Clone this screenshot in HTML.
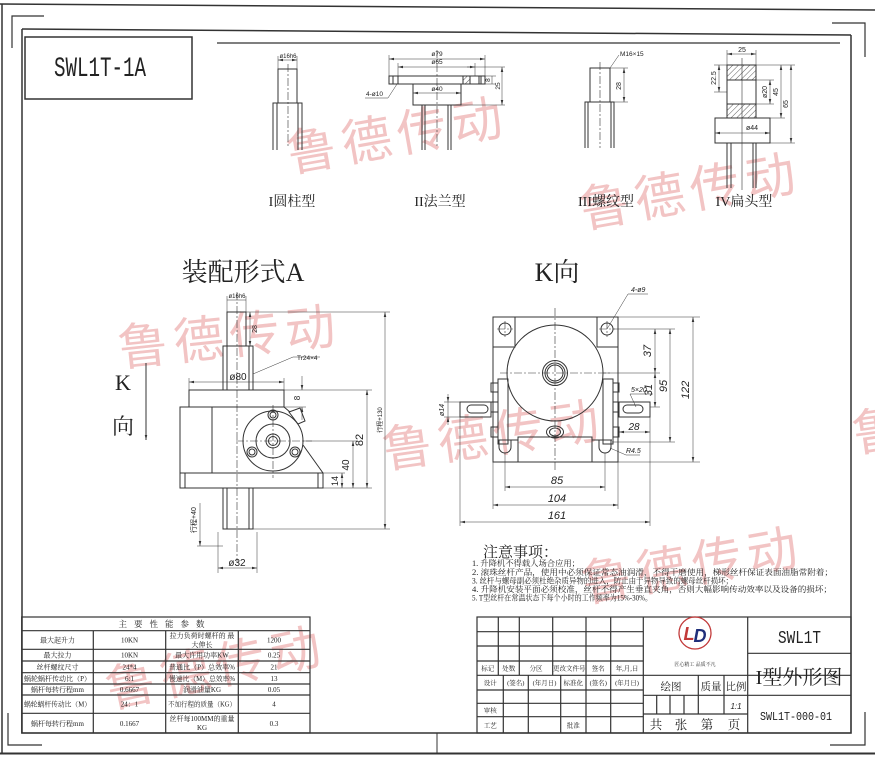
<!DOCTYPE html>
<html><head><meta charset="utf-8">
<style>
html,body{margin:0;padding:0;background:#fff;}
svg{display:block;}
text{font-family:"Liberation Serif","Noto Serif CJK SC",serif;fill:#222;}
.s{font-family:"Liberation Sans","Noto Sans CJK SC",sans-serif;}
.m{font-family:"Liberation Mono","Noto Sans CJK SC",monospace;}
text.wm{font-family:"Noto Sans CJK SC","WenQuanYi Zen Hei",sans-serif;font-weight:normal;fill:#f2c4c4;}
</style></head><body>
<svg width="875" height="768" viewBox="0 0 875 768" xmlns="http://www.w3.org/2000/svg">
<defs>
<marker id="ar" viewBox="0 0 10 10" refX="10" refY="5" markerWidth="5" markerHeight="5" markerUnits="userSpaceOnUse" orient="auto-start-reverse"><path d="M0,2.5 L10,5 L0,7.5z" fill="#333"/></marker>
<pattern id="h" width="4" height="4" patternUnits="userSpaceOnUse" patternTransform="rotate(45)"><line x1="0" y1="0" x2="0" y2="4" stroke="#333" stroke-width="0.8"/></pattern>
</defs>

<!-- watermarks -->
<g font-size="50" letter-spacing="6">
<text class="wm" x="290" y="172" transform="rotate(-10 290 172)">鲁德传动</text>
<text class="wm" x="583" y="228" transform="rotate(-10 583 228)">鲁德传动</text>
<text class="wm" x="120" y="366" transform="rotate(-6 120 366)">鲁德传动</text>
<text class="wm" x="385" y="468" transform="rotate(-8 385 468)">鲁德传动</text>
<text class="wm" x="855" y="452" transform="rotate(-8 855 452)">鲁</text>
<text class="wm" x="585" y="602" transform="rotate(-10 585 602)">鲁德传动</text>
<text class="wm" x="110" y="708" transform="rotate(-12 110 708)">鲁德传动</text>
</g>

<!-- frames -->
<g fill="none" stroke="#333">
<path d="M0 4 L875 10" stroke-width="1.5"/>
<path d="M2 4 V753" stroke-width="1.5"/>
<path d="M0 753.5 H875" stroke-width="2"/>
<path d="M22 29 L851 35" stroke-width="1.5"/>
<path d="M22 29 V733 H851 V35" stroke-width="1.5"/>
<path d="M12 48 V16 H44" stroke-width="1.2"/>
<path d="M832 23 H865 V57" stroke-width="1.2"/>
<path d="M8 713 V745 H42" stroke-width="1.2"/>
<path d="M830 745 H865 V712" stroke-width="1.2"/>
<path d="M217 43 H840" stroke-width="1.2"/>
<path d="M437 733 V753"/>
<rect x="25" y="37" width="167" height="62" stroke-width="1.5"/>
</g>
<text class="m" x="54" y="76" font-size="28" textLength="92" lengthAdjust="spacingAndGlyphs">SWL1T-1A</text>

<!-- I 圆柱型 -->
<g fill="none" stroke="#333" stroke-width="1">
<rect x="278" y="69" width="19" height="34"/>
<path d="M273 150 V103 H302 V150 M277 103 V150 M298 103 V150"/>
<path d="M288 64 V148" stroke-dasharray="8 2 2 2" stroke-width="0.6"/>
<path d="M278 56 V69 M297 56 V69" stroke-width="0.5"/>
<path d="M278 60 H297" stroke-width="0.5" marker-start="url(#ar)" marker-end="url(#ar)"/>
</g>
<text class="s" x="288" y="58" font-size="6" text-anchor="middle">ø16h6</text>
<text x="292" y="206" font-size="14" text-anchor="middle">I圆柱型</text>

<!-- II 法兰型 -->
<g fill="none" stroke="#333" stroke-width="1">
<rect x="389" y="76" width="96" height="8"/>
<path d="M393 76 V84 M398 76 V84 M479 76 V84 M481 76 V84"/>
<rect x="463" y="76" width="7" height="8" fill="url(#h)"/>
<rect x="413" y="84" width="48" height="21"/>
<path d="M422 105 V150 M425 105 V150 M448 105 V150 M451 105 V150"/>
<path d="M437 50 V148" stroke-dasharray="8 2 2 2" stroke-width="0.6"/>
<g stroke-width="0.5">
<path d="M389 55 V76 M485 55 V76 M398 63 V76 M475 63 V76 M485 76 H496 M485 84 H496 M467 67 H505 M461 105 H505"/>
<path d="M389 59 H485" marker-start="url(#ar)" marker-end="url(#ar)"/>
<path d="M398 67 H475" marker-start="url(#ar)" marker-end="url(#ar)"/>
<path d="M413 93 H461" marker-start="url(#ar)" marker-end="url(#ar)"/>
<path d="M492 76 V84"/>
<path d="M502 67 V105" marker-start="url(#ar)" marker-end="url(#ar)"/>
<path d="M365 98 H388 L397 84"/>
</g>
</g>
<g font-size="6.5">
<text class="s" x="437" y="56" text-anchor="middle">ø79</text>
<text class="s" x="437" y="64" text-anchor="middle">ø65</text>
<text class="s" x="437" y="91" text-anchor="middle">ø40</text>
<text class="s" x="366" y="96">4-ø10</text>
<text class="s" transform="translate(490 80) rotate(-90)" text-anchor="middle">8</text>
<text class="s" transform="translate(500 86) rotate(-90)" text-anchor="middle">25</text>
</g>
<text x="440" y="206" font-size="14" text-anchor="middle">II法兰型</text>

<!-- III 螺纹型 -->
<g fill="none" stroke="#333" stroke-width="1">
<rect x="590" y="68" width="20" height="34"/>
<path d="M585 148 V102 H614 V148 M588 102 V148 M611 102 V148"/>
<path d="M600 62 V148" stroke-dasharray="8 2 2 2" stroke-width="0.6"/>
<g stroke-width="0.5">
<path d="M610 68 H628 M610 102 H628 M610 68 L619 55"/>
<path d="M624 68 V102" marker-start="url(#ar)" marker-end="url(#ar)"/>
</g>
</g>
<text class="s" x="620" y="56" font-size="6.5">M16×15</text>
<text class="s" transform="translate(621 86) rotate(-90)" font-size="7" text-anchor="middle">28</text>
<text x="606" y="206" font-size="14" text-anchor="middle">III螺纹型</text>

<!-- IV 扁头型 -->
<g fill="none" stroke="#333" stroke-width="1">
<rect x="727" y="65" width="29" height="15" fill="url(#h)"/>
<rect x="727" y="104" width="29" height="14" fill="url(#h)"/>
<path d="M727 80 V104 M756 80 V104"/>
<rect x="715" y="118" width="55" height="25"/>
<path d="M727 143 V188 M731 143 V188 M753 143 V188 M756 143 V188"/>
<path d="M742 58 V190" stroke-width="0.6"/>
<g stroke-width="0.5">
<path d="M727 50 V65 M756 50 V65 M714 65 H727 M714 92 H727 M756 65 H795 M756 80 H774 M756 104 H774 M770 118 H785 M770 143 H795"/>
<path d="M727 54 H756" marker-start="url(#ar)" marker-end="url(#ar)"/>
<path d="M719 65 V92" marker-start="url(#ar)" marker-end="url(#ar)"/>
<path d="M770 80 V104" marker-start="url(#ar)" marker-end="url(#ar)"/>
<path d="M781 65 V118" marker-start="url(#ar)" marker-end="url(#ar)"/>
<path d="M791 65 V143" marker-start="url(#ar)" marker-end="url(#ar)"/>
<path d="M715 133 H770" marker-start="url(#ar)" marker-end="url(#ar)"/>
</g>
</g>
<g font-size="7">
<text class="s" x="742" y="52" text-anchor="middle">25</text>
<text class="s" transform="translate(716 78) rotate(-90)" text-anchor="middle">22.5</text>
<text class="s" transform="translate(767 92) rotate(-90)" text-anchor="middle">ø20</text>
<text class="s" transform="translate(778 92) rotate(-90)" text-anchor="middle">45</text>
<text class="s" transform="translate(788 104) rotate(-90)" text-anchor="middle">65</text>
<text class="s" x="752" y="130" text-anchor="middle">ø44</text>
</g>
<text x="744" y="206" font-size="14" text-anchor="middle">IV扁头型</text>

<!-- 装配形式A -->
<text x="243" y="281" font-size="26" text-anchor="middle">装配形式A</text>
<text x="123" y="390" font-size="22" text-anchor="middle">K</text>
<text x="123" y="434" font-size="22" text-anchor="middle">向</text>
<path d="M146 363 V440" stroke="#333" stroke-width="1" marker-end="url(#ar)"/>

<g fill="none" stroke="#333" stroke-width="1">
<rect x="227" y="312" width="19" height="34"/>
<path d="M223 390 V346 H253 V390 M227 346 V390 M249 346 V390"/>
<rect x="189" y="390" width="95" height="17"/>
<rect x="180" y="407" width="32" height="66"/>
<rect x="180" y="473" width="143" height="15"/>
<path d="M185 473 V488 M318 473 V488"/>
<path d="M284 407 L290 412 M303 445 L323 473"/>
<path d="M289 412 L300 408 L305 421 L298 424 Z"/>
<circle cx="273" cy="441" r="30"/>
<circle cx="273" cy="441" r="17"/>
<circle cx="273" cy="441" r="7"/>
<circle cx="273" cy="441" r="4.5"/>
<circle cx="273" cy="415" r="5"/><circle cx="273" cy="415" r="3"/>
<circle cx="252" cy="452" r="5"/><circle cx="252" cy="452" r="3"/>
<circle cx="295" cy="452" r="5"/><circle cx="295" cy="452" r="3"/>
<path d="M223 488 V529 H253 V488 M227 488 V529 M249 488 V529"/>
<g stroke-width="0.6" stroke-dasharray="8 2 2 2">
<path d="M237 292 V562"/>
<path d="M236 441 H312 M273 405 V478"/>
</g>
<g stroke-width="0.5">
<path d="M227 296 V312 M246 296 V312 M227 300 H246"/>
<path d="M250 312 V346" marker-start="url(#ar)" marker-end="url(#ar)"/>
<path d="M253 374 L293 357 H320"/>
<path d="M189 378 V390 M284 378 V390"/>
<path d="M189 382 H284" marker-start="url(#ar)" marker-end="url(#ar)"/>
<path d="M284 390 H372 M284 407 H306"/>
<path d="M302 376 V390" marker-end="url(#ar)"/>
<path d="M302 420 V407" marker-end="url(#ar)"/>
<path d="M246 312 H390 M253 529 H390 M303 441 H357 M323 473 H345 M323 488 H372"/>
<path d="M367 390 V488" marker-start="url(#ar)" marker-end="url(#ar)"/>
<path d="M353 441 V488" marker-start="url(#ar)" marker-end="url(#ar)"/>
<path d="M342 473 V488" marker-start="url(#ar)" marker-end="url(#ar)"/>
<path d="M385 312 V529" marker-start="url(#ar)" marker-end="url(#ar)"/>
<path d="M197 546 H223"/>
<path d="M200 503 V546" marker-end="url(#ar)"/>
<path d="M218 532 V573 M257 532 V573"/>
<path d="M218 568 H257" marker-start="url(#ar)" marker-end="url(#ar)"/>
</g>
</g>
<g>
<text class="s" x="237" y="298" font-size="6" text-anchor="middle">ø16h6</text>
<text class="s" transform="translate(257 329) rotate(-90)" font-size="7" text-anchor="middle">28</text>
<text class="s" x="297" y="360" font-size="6.5">Tr24×4</text>
<text class="s" x="238" y="380" font-size="10" text-anchor="middle">ø80</text>
<text class="s" transform="translate(300 398) rotate(-90)" font-size="8" text-anchor="middle">8</text>
<text class="s" transform="translate(363 440) rotate(-90)" font-size="11" text-anchor="middle">82</text>
<text class="s" transform="translate(349 465) rotate(-90)" font-size="10" text-anchor="middle">40</text>
<text class="s" transform="translate(338 481) rotate(-90)" font-size="9" text-anchor="middle">14</text>
<text class="s" transform="translate(382 420) rotate(-90)" font-size="6" text-anchor="middle">行程+130</text>
<text class="s" transform="translate(196 520) rotate(-90)" font-size="7" text-anchor="middle">行程+40</text>
<text class="s" x="237" y="566" font-size="10" text-anchor="middle">ø32</text>
</g>

<!-- K向 -->
<text x="557" y="281" font-size="26" text-anchor="middle">K向</text>
<g fill="none" stroke="#333" stroke-width="1">
<rect x="493" y="317" width="125" height="145"/>
<path d="M515 317 V347 H493 M597 317 V347 H618"/>
<circle cx="505" cy="329" r="6"/><circle cx="607" cy="329" r="6"/>
<circle cx="555" cy="373" r="48"/>
<circle cx="555" cy="373" r="12.5"/>
<circle cx="555" cy="373" r="10"/>
<circle cx="555" cy="373" r="8"/>
<rect x="498" y="379" width="10" height="65"/>
<rect x="603" y="379" width="10" height="65"/>
<rect x="491" y="383" width="7" height="9"/><rect x="491" y="402" width="7" height="10"/><rect x="491" y="427" width="7" height="10"/>
<rect x="613" y="383" width="6" height="9"/><rect x="613" y="402" width="6" height="10"/><rect x="613" y="427" width="6" height="10"/>
<rect x="460" y="402" width="31" height="15"/>
<rect x="467" y="405" width="21" height="8" rx="4"/>
<rect x="619" y="402" width="31" height="15"/>
<rect x="623" y="405" width="20" height="8" rx="4"/>
<rect x="518" y="437" width="74" height="25"/>
<path d="M498 440 H518 M592 440 H612"/>
<path d="M499 440 V447 A6 6 0 0 0 511 447 V440 M599 440 V447 A6 6 0 0 0 611 447 V440"/>
<ellipse cx="555" cy="432" rx="8.5" ry="6"/>
<ellipse cx="555" cy="432" rx="5.5" ry="4"/>
<g stroke-width="0.6" stroke-dasharray="8 2 2 2">
<path d="M555 308 V472 M500 373 H612"/>
<path d="M497 329 H513 M505 321 V337 M599 329 H615 M607 321 V337"/>
</g>
<g stroke-width="0.5">
<path d="M618 317 H700 M613 329 H675 M603 373 H660 M650 407 H660 M612 442 H675 M618 462 H700"/>
<path d="M655 329 V373" marker-start="url(#ar)" marker-end="url(#ar)"/>
<path d="M655 373 V407" marker-start="url(#ar)" marker-end="url(#ar)"/>
<path d="M670 329 V442" marker-start="url(#ar)" marker-end="url(#ar)"/>
<path d="M693 317 V462" marker-start="url(#ar)" marker-end="url(#ar)"/>
<path d="M607 329 L628 294 H648"/>
<path d="M636 407 L630 394 H653"/>
<path d="M650 417 V436"/>
<path d="M619 432 H650" marker-start="url(#ar)" marker-end="url(#ar)"/>
<path d="M610 448 L626 455 H640"/>
<path d="M444 402 H460 M444 417 H460"/>
<path d="M448 394 V402" marker-end="url(#ar)"/><path d="M448 425 V417" marker-end="url(#ar)"/>
<path d="M448 402 V417"/>
<path d="M505 453 V491 M605 453 V491 M493 462 V509 M618 462 V509 M460 417 V526 M650 436 V526"/>
<path d="M505 487 H605" marker-start="url(#ar)" marker-end="url(#ar)"/>
<path d="M493 505 H618" marker-start="url(#ar)" marker-end="url(#ar)"/>
<path d="M460 522 H650" marker-start="url(#ar)" marker-end="url(#ar)"/>
</g>
</g>
<g font-style="italic">
<text class="s" x="631" y="292" font-size="7">4-ø9</text>
<text class="s" transform="translate(651 351) rotate(-90)" font-size="11" text-anchor="middle">37</text>
<text class="s" transform="translate(652 390) rotate(-90)" font-size="11" text-anchor="middle">31</text>
<text class="s" transform="translate(667 386) rotate(-90)" font-size="11" text-anchor="middle">95</text>
<text class="s" transform="translate(689 390) rotate(-90)" font-size="11" text-anchor="middle">122</text>
<text class="s" x="631" y="392" font-size="7">5×20</text>
<text class="s" x="634" y="430" font-size="10" text-anchor="middle">28</text>
<text class="s" x="626" y="453" font-size="7">R4.5</text>
<text class="s" transform="translate(444 410) rotate(-90)" font-size="7" text-anchor="middle">ø14</text>
<text class="s" x="557" y="484" font-size="11" text-anchor="middle">85</text>
<text class="s" x="557" y="502" font-size="11" text-anchor="middle">104</text>
<text class="s" x="557" y="519" font-size="11" text-anchor="middle">161</text>
</g>

<!-- notes -->
<text x="483" y="557" font-size="15">注意事项：</text>
<g font-size="8.2">
<text x="472" y="566" textLength="108" lengthAdjust="spacingAndGlyphs">1. 升降机不得载人场合应用；</text>
<text x="472" y="575" textLength="361" lengthAdjust="spacingAndGlyphs">2. 滚珠丝杆产品，使用中必须保证常态油润滑，不得干磨使用，梯形丝杆保证表面油脂常附着；</text>
<text x="472" y="583.5" textLength="261" lengthAdjust="spacingAndGlyphs">3. 丝杆与螺母副必须杜绝杂质异物的进入，防止由于异物导致的螺母丝杆损坏；</text>
<text x="472" y="592" textLength="360" lengthAdjust="spacingAndGlyphs">4. 升降机安装平面必须校准，丝杆不得产生垂直夹角，否则大幅影响传动效率以及设备的损坏；</text>
<text x="472" y="600.5" textLength="180" lengthAdjust="spacingAndGlyphs">5. T型丝杆在常温状态下每个小时的工作频率为15%-30%。</text>
</g>

<!-- parameter table -->
<g fill="none" stroke="#333" stroke-width="1.2">
<rect x="21.7" y="617" width="288.3" height="116"/>
<path d="M21.7 630.7 H310 M21.7 649.3 H310 M21.7 661 H310 M21.7 672.7 H310 M21.7 684 H310 M21.7 695 H310 M21.7 713.3 H310"/>
<path d="M93.3 630.7 V733 M165.7 630.7 V733 M238.3 630.7 V733"/>
</g>
<g font-size="7" text-anchor="middle">
<text x="165" y="627" font-size="8.5" letter-spacing="7">主要性能参数</text>
<text x="57.5" y="642.5">最大起升力</text><text x="129.5" y="642.5">10KN</text>
<text x="202" y="638">拉力负荷时螺杆的 最</text><text x="202" y="647">大伸长</text><text x="274" y="642.5">1200</text>
<text x="57.5" y="657.7">最大拉力</text><text x="129.5" y="657.7">10KN</text><text x="202" y="657.7">最大许用功率KW</text><text x="274" y="657.7">0.25</text>
<text x="57.5" y="669.4">丝杆螺纹尺寸</text><text x="129.5" y="669.4">24*4</text><text x="202" y="669.4" textLength="66" lengthAdjust="spacingAndGlyphs">普通比（P）总效率%</text><text x="274" y="669.4">21</text>
<text x="57.5" y="680.9" textLength="67" lengthAdjust="spacingAndGlyphs">蜗轮蜗杆传动比（P）</text><text x="129.5" y="680.9">6:1</text><text x="202" y="680.9" textLength="66" lengthAdjust="spacingAndGlyphs">慢速比（M）总效率%</text><text x="274" y="680.9">13</text>
<text x="57.5" y="692">蜗杆每转行程mm</text><text x="129.5" y="692">0.6667</text><text x="202" y="692">润滑油量KG</text><text x="274" y="692">0.05</text>
<text x="57.5" y="706.7" textLength="67" lengthAdjust="spacingAndGlyphs">蜗轮蜗杆传动比（M）</text><text x="129.5" y="706.7">24：1</text><text x="202" y="706.7" textLength="68" lengthAdjust="spacingAndGlyphs">不加行程的质量（KG）</text><text x="274" y="706.7">4</text>
<text x="57.5" y="725.8">蜗杆每转行程mm</text><text x="129.5" y="725.8">0.1667</text><text x="202" y="721">丝杆每100MM的重量</text><text x="202" y="730">KG</text><text x="274" y="725.8">0.3</text>
</g>

<!-- title block -->
<g fill="none" stroke="#333" stroke-width="1.2">
<rect x="477" y="617" width="374" height="116"/>
<path d="M477 631.7 H643.3 M477 646 H643.3 M477 661 H643.3 M477 675.3 H851 M477 690 H643.3 M477 703.3 H643.3 M477 716.7 H643.3"/>
<path d="M498.3 617 V675.3 M519.3 617 V675.3 M552.7 617 V675.3 M586 617 V733 M610.7 617 V733"/>
<path d="M503.3 675.3 V733 M528.3 675.3 V733 M560.7 675.3 V733"/>
<path d="M643.3 617 V733 M747.7 617 V733"/>
<path d="M643.3 695.3 H851 M643.3 714 H747.7 M747.7 653.3 H851"/>
<path d="M698.3 675.3 V714 M724 675.3 V714 M656.7 695.3 V714 M670 695.3 V714 M684 695.3 V714"/>
</g>
<g font-size="6.5" text-anchor="middle">
<text x="487.7" y="670.5">标记</text><text x="508.8" y="670.5">处数</text><text x="536" y="670.5">分区</text><text x="569.3" y="670.5">更改文件号</text><text x="598.3" y="670.5">签名</text><text x="627" y="670.5">年,月,日</text>
<text x="490.2" y="685">设计</text><text x="515.8" y="685">(签名)</text><text x="544.5" y="685">(年月日)</text><text x="573.3" y="685">标准化</text><text x="598.3" y="685">(签名)</text><text x="627" y="685">(年月日)</text>
<text x="490.2" y="712.5">审核</text><text x="490.2" y="727.5">工艺</text><text x="573.3" y="727.5">批准</text>
</g>
<circle cx="695" cy="633" r="16" fill="none" stroke="#c23a3a" stroke-width="1.3"/>
<text x="689" y="640" font-size="18" font-style="italic" font-weight="bold" style="fill:#c23a3a" text-anchor="middle" class="s">L</text>
<text x="700" y="642" font-size="18" font-style="italic" font-weight="bold" style="fill:#1f2f7a" text-anchor="middle" class="s">D</text>
<text x="695" y="666" font-size="5" text-anchor="middle">匠心精工 品质不凡</text>
<g font-size="10.5" text-anchor="middle">
<text x="671" y="690">绘图</text><text x="711" y="690">质量</text><text x="736" y="690">比例</text>
</g>
<text x="736" y="709" font-size="8" font-style="italic" text-anchor="middle" class="s">1:1</text>
<g font-size="12.5" text-anchor="middle">
<text x="656" y="729">共</text><text x="681" y="729">张</text><text x="707" y="729">第</text><text x="734" y="729">页</text>
</g>
<text class="m" x="778" y="643" font-size="18" textLength="43" lengthAdjust="spacingAndGlyphs">SWL1T</text>
<text x="799" y="684" font-size="20" text-anchor="middle">I型外形图</text>
<text class="m" x="760" y="720" font-size="12" textLength="72" lengthAdjust="spacingAndGlyphs">SWL1T-000-01</text>
</svg>
</body></html>
